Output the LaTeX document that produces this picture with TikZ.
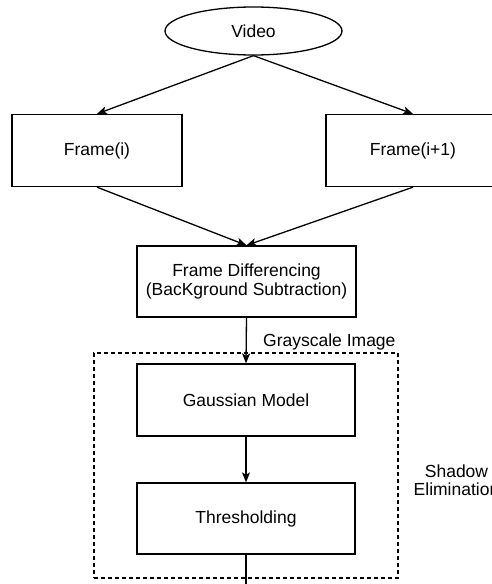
\documentclass[tikz,border=0pt]{standalone}
\usepackage{fontspec}
\setmainfont{Liberation Sans}
\usetikzlibrary{shapes.geometric,arrows.meta}
\begin{document}
\begin{tikzpicture}[x=1pt,y=-1pt,
  every node/.style={font=\fontsize{17.5}{18.5}\selectfont},
  box/.style={draw,line width=1.3pt,rectangle,inner sep=2pt,align=center},
  conn/.style={line width=1.3pt,-{Stealth[length=10pt,width=8pt,inset=2.5pt]}},
  plain/.style={line width=1.3pt}]
\useasboundingbox (0,0) rectangle (492,584);
\node[draw,ellipse,line width=1.3pt,minimum width=177pt,minimum height=48pt,inner sep=0pt] (video) at (253.5,31) {Video};
\node[box,minimum width=170pt,minimum height=72pt] (f1) at (97,150.5) {Frame(i)};
\node[box,minimum width=174pt,minimum height=72pt] (f2) at (413,150.5) {Frame(i+1)};
\node[box,minimum width=219pt,minimum height=71pt] (fd) at (246.5,281.5) {Frame Differencing\\(BacKground Subtraction)};
\node[draw,dashed,dash pattern=on 4pt off 3pt,line width=1.1pt,minimum width=304pt,minimum height=225pt,inner sep=0pt] (grp) at (246,465.5) {};
\node[box,minimum width=218pt,minimum height=72pt] (gm) at (246,400) {Gaussian Model};
\node[box,minimum width=218pt,minimum height=71pt] (th) at (246,518.5) {Thresholding};
\node[anchor=west,inner sep=0pt] (gray) at (263,342) {Grayscale Image};
\node[align=center,inner sep=0pt] (shadow) at (456.5,480) {Shadow\\Elimination};
\coordinate (end) at (246,592);
\draw[conn] (video.south) -- (f1.north);
\draw[conn] (video.south) -- (f2.north);
\draw[conn] (f1.south) -- (fd.north);
\draw[conn] (f2.south) -- (fd.north);
\draw[conn] (fd.south) -- (gm.north);
\draw[conn] (gm.south) -- (th.north);
\draw[plain] (th.south) -- (end);
\end{tikzpicture}
\end{document}
